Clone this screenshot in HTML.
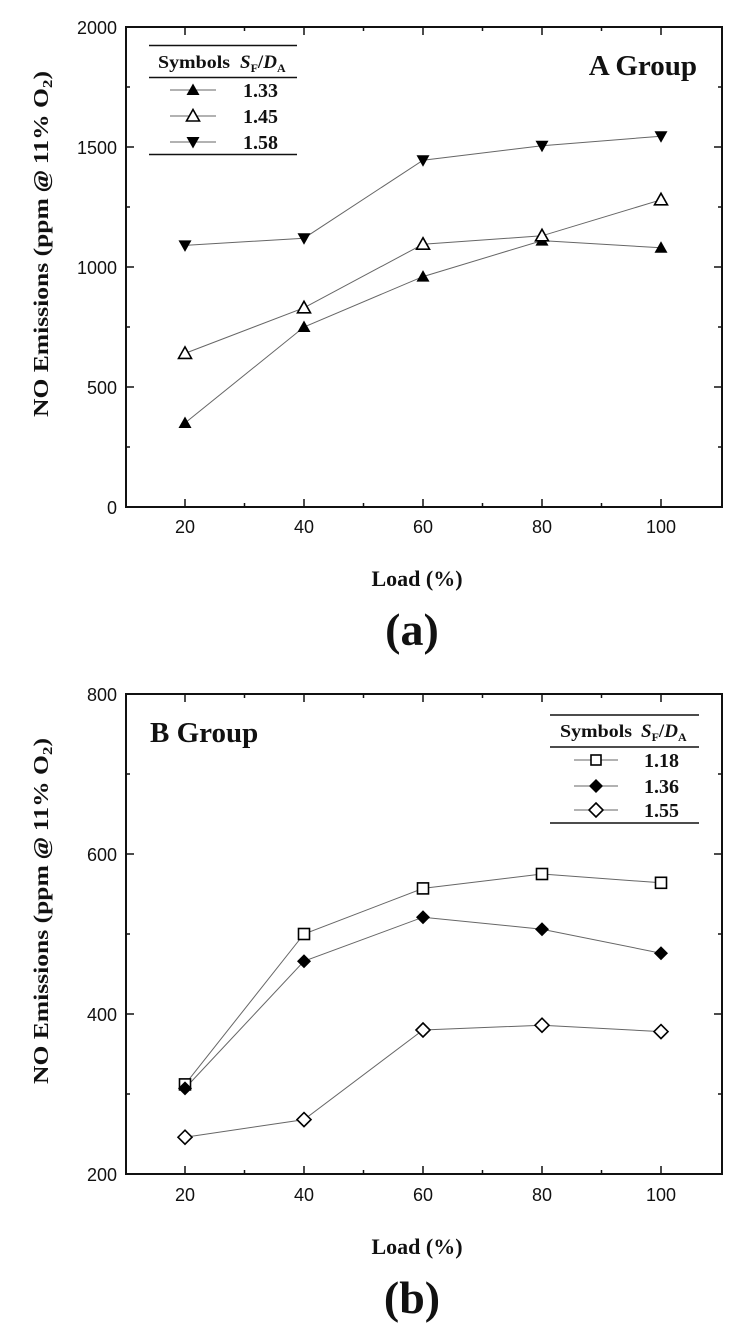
<!DOCTYPE html>
<html><head><meta charset="utf-8"><style>
html,body{margin:0;padding:0;background:#fff;}
svg{display:block;}
.t{font-family:"Liberation Sans",sans-serif;font-size:18px;fill:#111;}
.s{font-family:"Liberation Serif",serif;font-weight:bold;fill:#111;}
</style></head><body>
<svg width="745" height="1331" viewBox="0 0 745 1331" xmlns="http://www.w3.org/2000/svg">
<rect width="745" height="1331" fill="#fff"/>
<defs>
<path id="tu" d="M0,-6.5 L6.5,5 L-6.5,5 Z"/>
<path id="td" d="M0,6.5 L6.5,-5 L-6.5,-5 Z"/>
<path id="dm" d="M0,-7 L7,0 L0,7 L-7,0 Z"/>
</defs>

<!-- ===== Chart A ===== -->
<g stroke="#111" stroke-width="2" fill="none">
<rect x="126" y="27" width="596" height="480"/>
</g>
<g stroke="#111" stroke-width="1.5">
<line x1="185" y1="507" x2="185" y2="499"/><line x1="304" y1="507" x2="304" y2="499"/><line x1="423" y1="507" x2="423" y2="499"/><line x1="542" y1="507" x2="542" y2="499"/><line x1="661" y1="507" x2="661" y2="499"/>
<line x1="244.5" y1="507" x2="244.5" y2="503"/><line x1="363.5" y1="507" x2="363.5" y2="503"/><line x1="482.5" y1="507" x2="482.5" y2="503"/><line x1="601.5" y1="507" x2="601.5" y2="503"/>
<line x1="185" y1="27" x2="185" y2="35"/><line x1="304" y1="27" x2="304" y2="35"/><line x1="423" y1="27" x2="423" y2="35"/><line x1="542" y1="27" x2="542" y2="35"/><line x1="661" y1="27" x2="661" y2="35"/>
<line x1="244.5" y1="27" x2="244.5" y2="31"/><line x1="363.5" y1="27" x2="363.5" y2="31"/><line x1="482.5" y1="27" x2="482.5" y2="31"/><line x1="601.5" y1="27" x2="601.5" y2="31"/>
<line x1="126" y1="387" x2="134" y2="387"/><line x1="126" y1="267" x2="134" y2="267"/><line x1="126" y1="147" x2="134" y2="147"/>
<line x1="126" y1="447" x2="130" y2="447"/><line x1="126" y1="327" x2="130" y2="327"/><line x1="126" y1="207" x2="130" y2="207"/><line x1="126" y1="87" x2="130" y2="87"/>
<line x1="722" y1="387" x2="714" y2="387"/><line x1="722" y1="267" x2="714" y2="267"/><line x1="722" y1="147" x2="714" y2="147"/>
<line x1="722" y1="447" x2="718" y2="447"/><line x1="722" y1="327" x2="718" y2="327"/><line x1="722" y1="207" x2="718" y2="207"/><line x1="722" y1="87" x2="718" y2="87"/>
</g>
<g class="t" text-anchor="end">
<text x="117" y="514">0</text><text x="117" y="394">500</text><text x="117" y="274">1000</text><text x="117" y="154">1500</text><text x="117" y="34">2000</text>
</g>
<g class="t" text-anchor="middle">
<text x="185" y="533">20</text><text x="304" y="533">40</text><text x="423" y="533">60</text><text x="542" y="533">80</text><text x="661" y="533">100</text>
</g>
<text class="s" x="417" y="586" font-size="22" text-anchor="middle">Load (%)</text>
<text class="s" x="412" y="645" font-size="46" text-anchor="middle">(a)</text>
<text class="s" transform="translate(48,244) rotate(-90)" font-size="21" text-anchor="middle" textLength="346" lengthAdjust="spacingAndGlyphs">NO Emissions (ppm <tspan font-style="italic">@</tspan> 11% O<tspan font-size="14" dy="4">2</tspan><tspan dy="-4">)</tspan></text>
<text class="s" x="697" y="75" font-size="29" text-anchor="end">A Group</text>

<g stroke="#666" stroke-width="1" fill="none">
<polyline points="185,423 304,327 423,276.6 542,240.6 661,247.8"/>
<polyline points="185,353.4 304,307.8 423,244.2 542,235.8 661,199.8"/>
<polyline points="185,245.4 304,238.2 423,160.2 542,145.8 661,136.2"/>
</g>
<g fill="#000">
<use href="#tu" x="185" y="423"/><use href="#tu" x="304" y="327"/><use href="#tu" x="423" y="276.6"/><use href="#tu" x="542" y="240.6"/><use href="#tu" x="661" y="247.8"/>
<use href="#td" x="185" y="245.4"/><use href="#td" x="304" y="238.2"/><use href="#td" x="423" y="160.2"/><use href="#td" x="542" y="145.8"/><use href="#td" x="661" y="136.2"/>
</g>
<g fill="#fff" stroke="#000" stroke-width="1.6">
<use href="#tu" x="185" y="353.4"/><use href="#tu" x="304" y="307.8"/><use href="#tu" x="423" y="244.2"/><use href="#tu" x="542" y="235.8"/><use href="#tu" x="661" y="199.8"/>
</g>
<g stroke="#111" stroke-width="1.5">
<line x1="149" y1="45.5" x2="297" y2="45.5"/>
<line x1="149" y1="77.5" x2="297" y2="77.5"/>
<line x1="149" y1="154.5" x2="297" y2="154.5"/>
</g>
<g stroke="#666" stroke-width="1">
<line x1="170" y1="90" x2="216" y2="90"/><line x1="170" y1="116" x2="216" y2="116"/><line x1="170" y1="142" x2="216" y2="142"/>
</g>
<use href="#tu" x="193" y="90" fill="#000"/>
<use href="#tu" x="193" y="116" fill="#fff" stroke="#000" stroke-width="1.6"/>
<use href="#td" x="193" y="142" fill="#000"/>
<text class="s" x="158" y="68" font-size="18" textLength="72" lengthAdjust="spacingAndGlyphs">Symbols</text>
<text class="s" x="240" y="68" font-size="19"><tspan font-style="italic">S</tspan><tspan font-size="12" dy="4">F</tspan><tspan dy="-4">/</tspan><tspan font-style="italic">D</tspan><tspan font-size="12" dy="4">A</tspan></text>
<g class="s" font-size="20"><text x="243" y="97">1.33</text><text x="243" y="123">1.45</text><text x="243" y="149">1.58</text></g>

<!-- ===== Chart B ===== -->
<g stroke="#111" stroke-width="2" fill="none">
<rect x="126" y="694" width="596" height="480"/>
</g>
<g stroke="#111" stroke-width="1.5">
<line x1="185" y1="1174" x2="185" y2="1166"/><line x1="304" y1="1174" x2="304" y2="1166"/><line x1="423" y1="1174" x2="423" y2="1166"/><line x1="542" y1="1174" x2="542" y2="1166"/><line x1="661" y1="1174" x2="661" y2="1166"/>
<line x1="244.5" y1="1174" x2="244.5" y2="1170"/><line x1="363.5" y1="1174" x2="363.5" y2="1170"/><line x1="482.5" y1="1174" x2="482.5" y2="1170"/><line x1="601.5" y1="1174" x2="601.5" y2="1170"/>
<line x1="185" y1="694" x2="185" y2="702"/><line x1="304" y1="694" x2="304" y2="702"/><line x1="423" y1="694" x2="423" y2="702"/><line x1="542" y1="694" x2="542" y2="702"/><line x1="661" y1="694" x2="661" y2="702"/>
<line x1="244.5" y1="694" x2="244.5" y2="698"/><line x1="363.5" y1="694" x2="363.5" y2="698"/><line x1="482.5" y1="694" x2="482.5" y2="698"/><line x1="601.5" y1="694" x2="601.5" y2="698"/>
<line x1="126" y1="1014" x2="134" y2="1014"/><line x1="126" y1="854" x2="134" y2="854"/>
<line x1="126" y1="1094" x2="130" y2="1094"/><line x1="126" y1="934" x2="130" y2="934"/><line x1="126" y1="774" x2="130" y2="774"/>
<line x1="722" y1="1014" x2="714" y2="1014"/><line x1="722" y1="854" x2="714" y2="854"/>
<line x1="722" y1="1094" x2="718" y2="1094"/><line x1="722" y1="934" x2="718" y2="934"/><line x1="722" y1="774" x2="718" y2="774"/>
</g>
<g class="t" text-anchor="end">
<text x="117" y="1181">200</text><text x="117" y="1021">400</text><text x="117" y="861">600</text><text x="117" y="701">800</text>
</g>
<g class="t" text-anchor="middle">
<text x="185" y="1201">20</text><text x="304" y="1201">40</text><text x="423" y="1201">60</text><text x="542" y="1201">80</text><text x="661" y="1201">100</text>
</g>
<text class="s" x="417" y="1254" font-size="22" text-anchor="middle">Load (%)</text>
<text class="s" x="412" y="1313" font-size="46" text-anchor="middle">(b)</text>
<text class="s" transform="translate(48,911) rotate(-90)" font-size="21" text-anchor="middle" textLength="346" lengthAdjust="spacingAndGlyphs">NO Emissions (ppm <tspan font-style="italic">@</tspan> 11% O<tspan font-size="14" dy="4">2</tspan><tspan dy="-4">)</tspan></text>
<text class="s" x="150" y="742" font-size="29">B Group</text>

<g stroke="#666" stroke-width="1" fill="none">
<polyline points="185,1084.4 304,934 423,888.4 542,874 661,882.8"/>
<polyline points="185,1088.4 304,961.2 423,917.2 542,929.2 661,953.2"/>
<polyline points="185,1137.2 304,1119.6 423,1030 542,1025.2 661,1031.6"/>
</g>
<g fill="#fff" stroke="#000" stroke-width="1.6">
<rect x="179.5" y="1078.9" width="11" height="11"/><rect x="298.5" y="928.5" width="11" height="11"/><rect x="417.5" y="882.9" width="11" height="11"/><rect x="536.5" y="868.5" width="11" height="11"/><rect x="655.5" y="877.3" width="11" height="11"/>
</g>
<g fill="#000">
<use href="#dm" x="185" y="1088.4"/><use href="#dm" x="304" y="961.2"/><use href="#dm" x="423" y="917.2"/><use href="#dm" x="542" y="929.2"/><use href="#dm" x="661" y="953.2"/>
</g>
<g fill="#fff" stroke="#000" stroke-width="1.6">
<use href="#dm" x="185" y="1137.2"/><use href="#dm" x="304" y="1119.6"/><use href="#dm" x="423" y="1030"/><use href="#dm" x="542" y="1025.2"/><use href="#dm" x="661" y="1031.6"/>
</g>
<g stroke="#111" stroke-width="1.5">
<line x1="550" y1="715" x2="699" y2="715"/>
<line x1="550" y1="747" x2="699" y2="747"/>
<line x1="550" y1="823" x2="699" y2="823"/>
</g>
<g stroke="#666" stroke-width="1">
<line x1="574" y1="760" x2="618" y2="760"/><line x1="574" y1="786" x2="618" y2="786"/><line x1="574" y1="810" x2="618" y2="810"/>
</g>
<rect x="591" y="755" width="10" height="10" fill="#fff" stroke="#000" stroke-width="1.6"/>
<use href="#dm" x="596" y="786" fill="#000"/>
<use href="#dm" x="596" y="810" fill="#fff" stroke="#000" stroke-width="1.6"/>
<text class="s" x="560" y="737" font-size="18" textLength="72" lengthAdjust="spacingAndGlyphs">Symbols</text>
<text class="s" x="641" y="737" font-size="19"><tspan font-style="italic">S</tspan><tspan font-size="12" dy="4">F</tspan><tspan dy="-4">/</tspan><tspan font-style="italic">D</tspan><tspan font-size="12" dy="4">A</tspan></text>
<g class="s" font-size="20"><text x="644" y="767">1.18</text><text x="644" y="793">1.36</text><text x="644" y="817">1.55</text></g>
</svg>
</body></html>
